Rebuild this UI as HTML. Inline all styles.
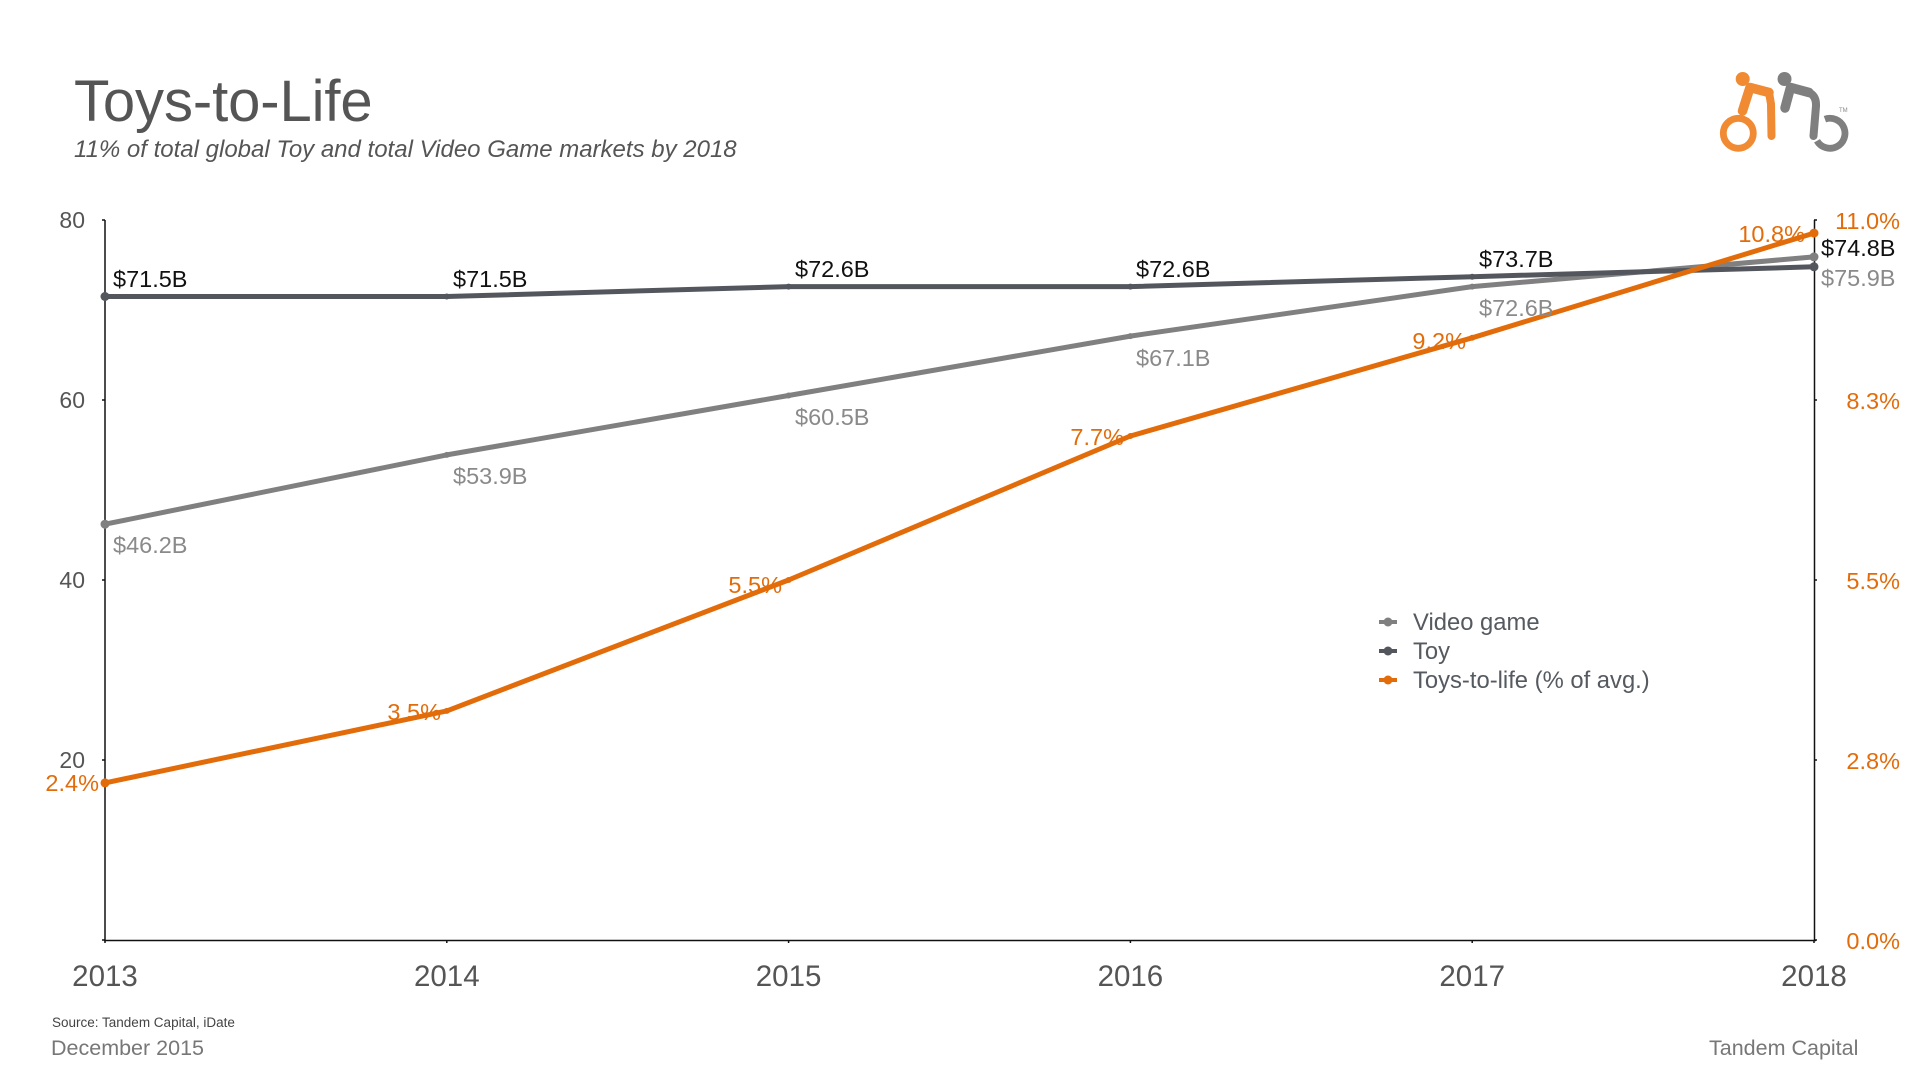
<!DOCTYPE html>
<html>
<head>
<meta charset="utf-8">
<style>
  html, body { margin:0; padding:0; background:#ffffff; }
  body { width:1920px; height:1080px; overflow:hidden; }
  svg { display:block; }
  text { font-family: "Liberation Sans", Arial, sans-serif; }
</style>
</head>
<body>
<svg width="1920" height="1080" viewBox="0 0 1920 1080" xmlns="http://www.w3.org/2000/svg">
  <rect x="0" y="0" width="1920" height="1080" fill="#ffffff"/>

  <!-- Title -->
  <text x="74" y="121" font-size="58" fill="#555555" letter-spacing="-0.1">Toys-to-Life</text>
  <text x="74" y="157" font-size="24" fill="#555555" font-style="italic">11% of total global Toy and total Video Game markets by 2018</text>

  <!-- Logo -->
  <g>
    <circle cx="1742.7" cy="79" r="7" fill="#f08a33"/>
    <polyline points="1742.5,111 1750,87.5 1769,92.5" fill="none" stroke="#f08a33" stroke-width="9.5" stroke-linecap="round" stroke-linejoin="round"/>
    <polyline points="1769,92.5 1771,104 1771.5,136" fill="none" stroke="#f08a33" stroke-width="8" stroke-linecap="round" stroke-linejoin="round"/>
    <circle cx="1738.3" cy="133.3" r="15" fill="none" stroke="#f08a33" stroke-width="6.8"/>
    <circle cx="1784.5" cy="79" r="7" fill="#7f7f7f"/>
    <polyline points="1785,108 1790.5,87.5 1809,92.5" fill="none" stroke="#7f7f7f" stroke-width="9.5" stroke-linecap="round" stroke-linejoin="round"/>
    <path d="M1809,92.5 Q1816.5,96 1816,106 L1813.5,136" fill="none" stroke="#7f7f7f" stroke-width="8" stroke-linecap="round" stroke-linejoin="round"/>
    <path d="M1824.9,119.2 A15,15 0 1 1 1817,140.8" fill="none" stroke="#7f7f7f" stroke-width="6.8"/>
    <text x="1839" y="112" font-size="6" fill="#888">TM</text>
  </g>

  <!-- Axes -->
  <g stroke="#111" stroke-width="1.5" fill="none">
    <line x1="105" y1="220" x2="105" y2="941"/>
    <line x1="1814.5" y1="220" x2="1814.5" y2="941"/>
    <line x1="104" y1="940.5" x2="1816" y2="940.5"/>
    <line x1="102" y1="220" x2="105" y2="220"/>
    <line x1="102" y1="400" x2="105" y2="400"/>
    <line x1="102" y1="580" x2="105" y2="580"/>
    <line x1="102" y1="760" x2="105" y2="760"/>
    <line x1="102" y1="940" x2="105" y2="940"/>
    <line x1="1814" y1="220" x2="1817" y2="220"/>
    <line x1="1814" y1="400" x2="1817" y2="400"/>
    <line x1="1814" y1="580" x2="1817" y2="580"/>
    <line x1="1814" y1="760" x2="1817" y2="760"/>
    <line x1="1814" y1="940" x2="1817" y2="940"/>
    <line x1="105" y1="940" x2="105" y2="943"/>
    <line x1="446.8" y1="940" x2="446.8" y2="943"/>
    <line x1="788.6" y1="940" x2="788.6" y2="943"/>
    <line x1="1130.4" y1="940" x2="1130.4" y2="943"/>
    <line x1="1472.2" y1="940" x2="1472.2" y2="943"/>
    <line x1="1814" y1="940" x2="1814" y2="943"/>
  </g>

  <!-- Left axis labels -->
  <g font-size="23" fill="#555555" text-anchor="end">
    <text x="85" y="228">80</text>
    <text x="85" y="408">60</text>
    <text x="85" y="588">40</text>
    <text x="85" y="768">20</text>
  </g>
  <!-- Right axis labels -->
  <g font-size="23.5" fill="#e36c0a" text-anchor="end">
    <text x="1900" y="229">11.0%</text>
    <text x="1900" y="409">8.3%</text>
    <text x="1900" y="589">5.5%</text>
    <text x="1900" y="769">2.8%</text>
    <text x="1900" y="949">0.0%</text>
  </g>
  <!-- Year labels -->
  <g font-size="29.5" fill="#555555" text-anchor="middle">
    <text x="105" y="986">2013</text>
    <text x="446.8" y="986">2014</text>
    <text x="788.6" y="986">2015</text>
    <text x="1130.4" y="986">2016</text>
    <text x="1472.2" y="986">2017</text>
    <text x="1814" y="986">2018</text>
  </g>

  <!-- Video game series -->
  <polyline points="105,524.2 446.8,454.9 788.6,395.5 1130.4,336.1 1472.2,286.6 1814,256.9" fill="none" stroke="#808080" stroke-width="5" stroke-linejoin="round"/>
  <g fill="#808080">
    <circle cx="105" cy="524.2" r="4.5"/>
    <circle cx="446.8" cy="454.9" r="3"/>
    <circle cx="788.6" cy="395.5" r="3"/>
    <circle cx="1130.4" cy="336.1" r="3"/>
    <circle cx="1472.2" cy="286.6" r="3"/>
    <circle cx="1814" cy="256.9" r="4.5"/>
  </g>

  <!-- Toy series -->
  <polyline points="105,296.5 446.8,296.5 788.6,286.6 1130.4,286.6 1472.2,276.7 1814,266.8" fill="none" stroke="#53575d" stroke-width="5" stroke-linejoin="round"/>
  <g fill="#53575d">
    <circle cx="105" cy="296.5" r="4.5"/>
    <circle cx="446.8" cy="296.5" r="3"/>
    <circle cx="788.6" cy="286.6" r="3"/>
    <circle cx="1130.4" cy="286.6" r="3"/>
    <circle cx="1472.2" cy="276.7" r="3"/>
    <circle cx="1814" cy="266.8" r="4.5"/>
  </g>

  <!-- Toys-to-life series -->
  <polyline points="105,782.9 446.8,710.9 788.6,580 1130.4,436 1472.2,337.8 1814,233.1" fill="none" stroke="#e36c0a" stroke-width="5" stroke-linejoin="round"/>
  <g fill="#e36c0a">
    <circle cx="105" cy="782.9" r="4.5"/>
    <circle cx="446.8" cy="710.9" r="3"/>
    <circle cx="788.6" cy="580" r="3"/>
    <circle cx="1130.4" cy="436" r="3"/>
    <circle cx="1472.2" cy="337.8" r="3"/>
    <circle cx="1814" cy="233.1" r="4.5"/>
  </g>

  <!-- Toy labels -->
  <g font-size="23.5" fill="#111111">
    <text x="113" y="287">$71.5B</text>
    <text x="453" y="287">$71.5B</text>
    <text x="795" y="277">$72.6B</text>
    <text x="1136" y="277">$72.6B</text>
    <text x="1479" y="267">$73.7B</text>
    <text x="1821" y="256">$74.8B</text>
  </g>
  <!-- Video game labels -->
  <g font-size="23.5" fill="#8a8a8a">
    <text x="113" y="553">$46.2B</text>
    <text x="453" y="484">$53.9B</text>
    <text x="795" y="425">$60.5B</text>
    <text x="1136" y="366">$67.1B</text>
    <text x="1479" y="316">$72.6B</text>
    <text x="1821" y="286">$75.9B</text>
  </g>
  <!-- Toys-to-life labels -->
  <g font-size="23.5" fill="#e36c0a" text-anchor="end">
    <text x="99" y="791">2.4%</text>
    <text x="441" y="720">3.5%</text>
    <text x="782" y="593">5.5%</text>
    <text x="1124" y="445">7.7%</text>
    <text x="1466" y="349">9.2%</text>
    <text x="1805" y="242">10.8%</text>
  </g>

  <!-- Legend -->
  <g>
    <line x1="1379" y1="622" x2="1397" y2="622" stroke="#808080" stroke-width="4"/>
    <circle cx="1388" cy="622" r="4.5" fill="#808080"/>
    <text x="1413" y="630" font-size="23.8" fill="#555a60">Video game</text>
    <line x1="1379" y1="651" x2="1397" y2="651" stroke="#53575d" stroke-width="4"/>
    <circle cx="1388" cy="651" r="4.5" fill="#53575d"/>
    <text x="1413" y="659" font-size="23.8" fill="#555a60">Toy</text>
    <line x1="1379" y1="680" x2="1397" y2="680" stroke="#e36c0a" stroke-width="4"/>
    <circle cx="1388" cy="680" r="4.5" fill="#e36c0a"/>
    <text x="1413" y="688" font-size="23.8" fill="#555a60">Toys-to-life (% of avg.)</text>
  </g>

  <!-- Footer -->
  <text x="52" y="1027" font-size="13.5" fill="#444444">Source: Tandem Capital, iDate</text>
  <text x="51" y="1055" font-size="21.5" fill="#777777">December 2015</text>
  <text x="1709" y="1055" font-size="21.5" fill="#777777">Tandem Capital</text>
</svg>
</body>
</html>
